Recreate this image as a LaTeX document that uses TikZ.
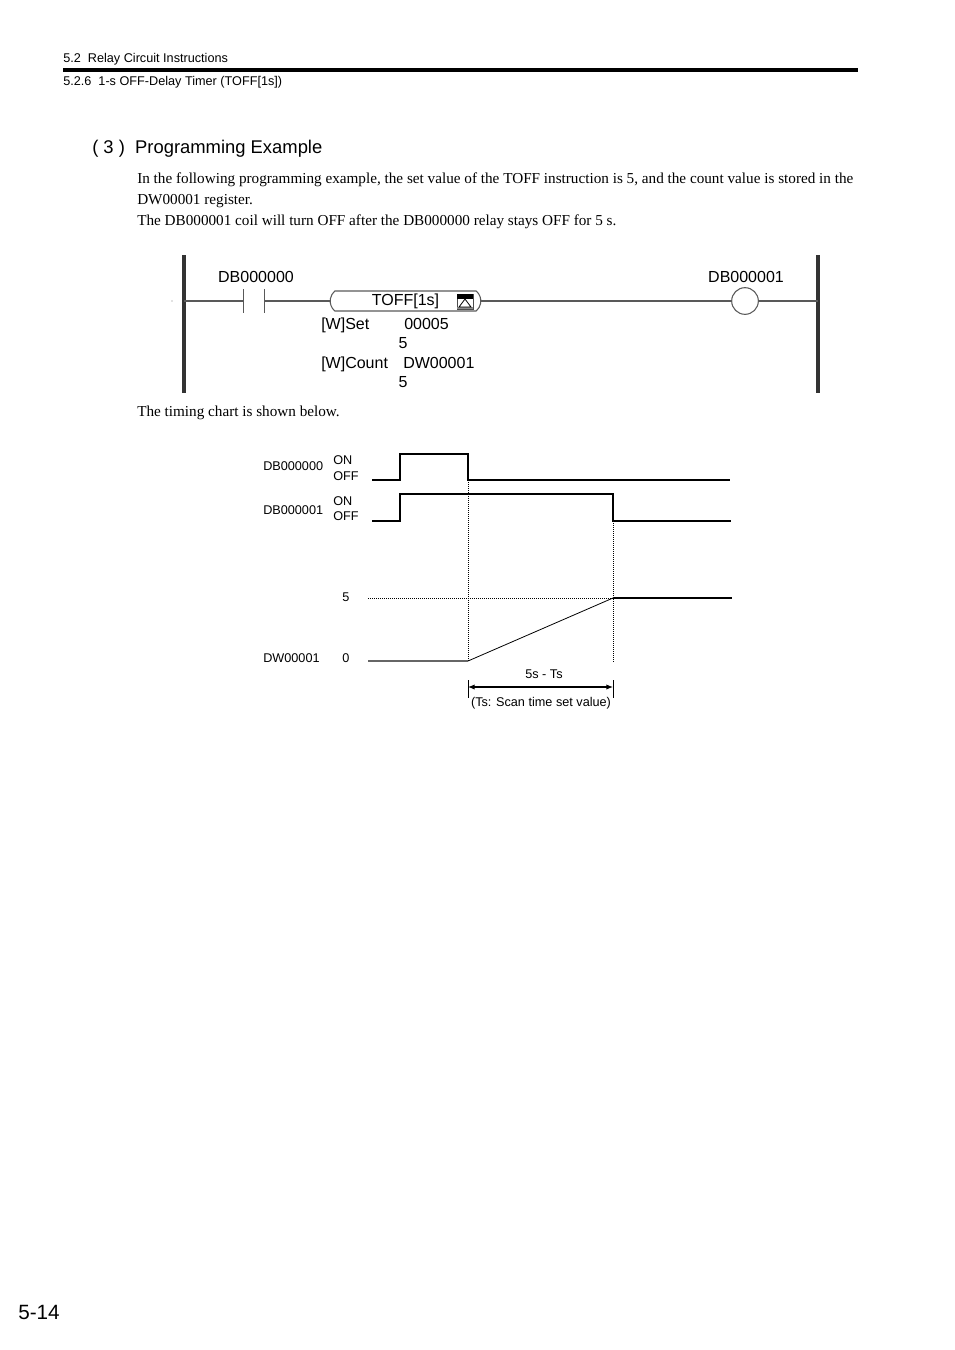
\documentclass[tikz,border=0pt]{standalone}
\usepackage{fontspec}
\setmainfont{Liberation Serif}
\setsansfont{Liberation Sans}
\usetikzlibrary{arrows.meta, positioning, shapes.misc}

\tikzset{
  hdr/.style={font=\sffamily\fontsize{9.5}{11}\selectfont, inner sep=0pt, anchor=west},
  body/.style={font=\fontsize{11.4}{15.4}\selectfont, inner sep=0pt, align=left},
  lad/.style={font=\sffamily\fontsize{12}{14}\selectfont, inner sep=0pt, text height=8.6pt, text depth=0pt},
  chart/.style={font=\sffamily\fontsize{9.5}{11}\selectfont, inner sep=0pt, text height=6.8pt, text depth=0pt},
  rail/.style={line width=2.4pt, black!80},
  wire/.style={line width=0.8pt, black!65},
  sig/.style={line width=0.9pt},
  guide/.style={densely dotted, line width=0.5pt},
}

\begin{document}
\begin{tikzpicture}[x=0.75pt, y=-0.75pt]
\useasboundingbox (0,0) rectangle (954,1350);

% page head
\node[hdr, text height=6.8pt, text depth=0pt] (sec) at (63,58) {5.2\ \ Relay Circuit Instructions};
\draw[line width=3.2pt] (63,70) -- (858,70);
\node[hdr, text height=6.8pt, text depth=0pt] (sub) at (63,81) {5.2.6\ \ 1-s OFF-Delay Timer (TOFF[1s])};
\node[hdr, font=\sffamily\fontsize{13.8}{16}\selectfont, text height=9.9pt, text depth=0pt] (title) at (92,147) {( 3 )\ \ Programming Example};
\node[body, anchor=north west] (para) at (137,173) {In the following programming example, the set value of the TOFF instruction is 5, and the count value is stored in the\\
DW00001 register.\\
The DB000001 coil will turn OFF after the DB000000 relay stays OFF for 5 s.};

% ladder
\coordinate (lt) at (184,255);
\coordinate (lb) at (184,393);
\coordinate (rt) at (818,255);
\coordinate (rb) at (818,393);
\coordinate (lr) at (184,301);
\coordinate (rr) at (818,301);
\draw[rail] (lt) -- (lb);
\draw[rail] (rt) -- (rb);
\fill[black!50] (172,301) circle (0.5pt);

\node[minimum width=15pt, minimum height=17pt, inner sep=0pt] (ct) at (254,301) {};
\draw[wire] (ct.north west) -- (ct.south west);
\draw[wire] (ct.north east) -- (ct.south east);
\node[lad] (ctname) at (256,277) {DB000000};

\node[lad, draw=black!65, line width=0.8pt, rounded rectangle, rounded rectangle arc length=100,
      minimum width=113pt, minimum height=15pt, text depth=2pt] (toff) at (405.5,301) {TOFF[1s]\hspace{12pt}};
% timer icon
\draw[black!70, line width=0.5pt] (457,294) rectangle (473,309);
\fill[black] (457,294) rectangle (473,299);
\fill[black!45] (457,307) rectangle (473,309);
\draw[black, line width=0.6pt] (459,307) -- (465,299) -- (471,307) -- cycle;

\node[draw=black!65, line width=0.8pt, circle, minimum size=20pt] (coil) at (745,301) {};
\node[lad] (coilname) at (746,277) {DB000001};

\draw[wire] (lr) -- (ct.west);
\draw[wire] (ct.east) -- (toff.west);
\draw[wire] (toff.east) -- (coil.west);
\draw[wire] (coil.east) -- (rr);

\node[lad, anchor=west] (wset) at (321,324) {[W]Set};
\node[lad, anchor=west] (sv) at (404,324) {00005};
\node[lad] (svv) at (403,343) {5};
\node[lad, anchor=west] (wcnt) at (321,363) {[W]Count};
\node[lad, anchor=west] (cv) at (403,363) {DW00001};
\node[lad] (cvv) at (403,382) {5};

\node[body, anchor=west, text height=7.6pt, text depth=0pt] (note) at (137,411) {The timing chart is shown below.};

% timing chart
\node[chart, anchor=west] (inA) at (263,466) {DB000000};
\node[chart, anchor=west] (onA) at (333,460) {ON};
\node[chart, anchor=west] (offA) at (333,476) {OFF};
\node[chart, anchor=west] (inB) at (263,510) {DB000001};
\node[chart, anchor=west] (onB) at (333,501) {ON};
\node[chart, anchor=west] (offB) at (333,516) {OFF};
\node[chart] (five) at (346,597) {5};
\node[chart, anchor=west] (reg) at (263,658) {DW00001};
\node[chart] (zero) at (346,658) {0};

\draw[sig] (372,480) -- (400,480) -- (400,454) -- (468,454) -- (468,480) -- (730,480);
\draw[sig] (372,521) -- (400,521) -- (400,494) -- (613,494) -- (613,521) -- (731,521);
\draw[guide] (368,598) -- (613,598);
\draw[sig] (613,598) -- (732,598);
\draw[sig, black!60] (368,661) -- (468,661);
\draw[line width=0.6pt] (468,661) -- (613,598);
\draw[guide] (468,480) -- (468,662);
\draw[guide] (613,521) -- (613,662);

% time span
\coordinate (d1) at (468,687);
\coordinate (d2) at (613,687);
\draw[line width=0.6pt] (468,680) -- (468,698);
\draw[line width=0.6pt] (613,680) -- (613,698);
\draw[line width=0.8pt, {Latex[length=5pt, width=4pt]}-{Latex[length=5pt, width=4pt]}] (d1) -- (d2);
\node[chart] (span) at (544,674) {5s - Ts};
\node[chart, text depth=2pt] (scan) at (541,703) {(Ts: Scan time set value)};

% page number
\node[hdr, font=\sffamily\fontsize{15.5}{18}\selectfont, text height=11.1pt, text depth=0pt] (page) at (18,1312) {5-14};
\end{tikzpicture}
\end{document}
